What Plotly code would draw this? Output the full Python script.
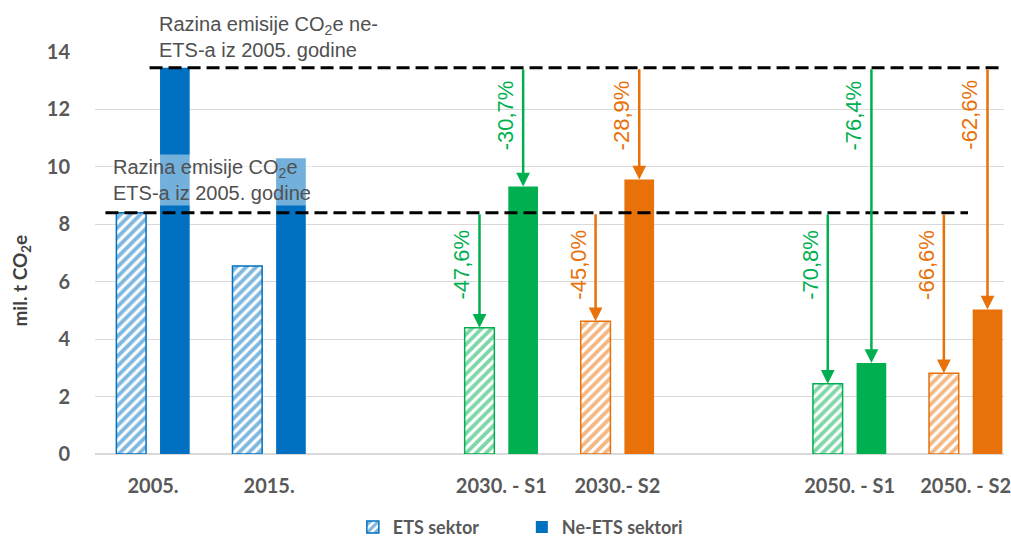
import plotly.graph_objects as go

# ---- data ----
categories = ["2005.", "2015.", " ", "2030. - S1", "2030.- S2", "  ", "2050. - S1", "2050. - S2"]
bar_cats = ["2005.", "2015.", "2030. - S1", "2030.- S2", "2050. - S1", "2050. - S2"]
ets_values = [8.40, 6.55, 4.40, 4.62, 2.45, 2.81]
non_ets_values = [13.45, 10.30, 9.32, 9.56, 3.17, 5.03]
bar_colors = ["#0070C0", "#0070C0", "#00B050", "#E8710A", "#00B050", "#E8710A"]
ets_change_labels = ["-47,6%", "-45,0%", "-70,8%", "-66,6%"]
non_ets_change_labels = ["-30,7%", "-28,9%", "-76,4%", "-62,6%"]
scenario_cats = ["2030. - S1", "2030.- S2", "2050. - S1", "2050. - S2"]
y_ticks = [0, 2, 4, 6, 8, 10, 12, 14]

ets_ref = ets_values[0]
non_ets_ref = non_ets_values[0]

BARGAP = 0.248
OFF = (1 - BARGAP) / 4  # offset of each bar centre from category centre

GREY = "#595959"
TICKFONT = dict(family="Lato", size=20, color=GREY)

fig = go.Figure()
fig.add_trace(go.Bar(
    name="ETS sektor", x=bar_cats, y=ets_values,
    marker=dict(color="white",
                line=dict(color=bar_colors, width=1.5),
                pattern=dict(shape="/", fgcolor=bar_colors, bgcolor="white",
                             size=7, solidity=0.55)),
))
fig.add_trace(go.Bar(
    name="Ne-ETS sektori", x=bar_cats, y=non_ets_values,
    marker=dict(color=bar_colors, line=dict(width=0)),
))

# reference dashed lines
fig.add_shape(type="line", x0=-0.03, x1=7.4, y0=non_ets_ref, y1=non_ets_ref,
              line=dict(color="black", width=3, dash="13px,6px"))
fig.add_shape(type="line", x0=-0.41, x1=7.02, y0=ets_ref, y1=ets_ref,
              line=dict(color="black", width=3, dash="13px,6px"))

annotations = []
for cat, lab_e, lab_n in zip(scenario_cats, ets_change_labels, non_ets_change_labels):
    i = categories.index(cat)
    col = bar_colors[bar_cats.index(cat)]
    ev = ets_values[bar_cats.index(cat)]
    nv = non_ets_values[bar_cats.index(cat)]
    for xc, top, ref, lab, ylab in [(i - OFF, ev, ets_ref, lab_e, ets_ref - 1.82),
                                   (i + OFF, nv, non_ets_ref, lab_n, non_ets_ref - 1.65)]:
        annotations.append(dict(x=xc, y=top, ax=xc, ay=ref, xref="x", yref="y",
                                axref="x", ayref="y", showarrow=True, text="",
                                arrowhead=2, arrowsize=1.1, arrowwidth=2.5,
                                arrowcolor=col, standoff=0, startstandoff=0))
        annotations.append(dict(x=xc, y=ylab, xref="x", yref="y", showarrow=False,
                                text=lab, textangle=-90, xshift=-18,
                                xanchor="center", yanchor="middle",
                                font=dict(family="Liberation Sans", size=22, color=col)))

annotations.append(dict(x=(157 - 95) / 916, y=(454 - 11) / 402, xref="paper", yref="paper",
                        xanchor="left", yanchor="top",
                        showarrow=False, align="left",
                        text="Razina emisije CO<sub>2</sub>e ne-<br>ETS-a iz 2005. godine",
                        font=dict(family="Liberation Sans", size=20, color="#505050")))
annotations.append(dict(x=-0.36, y=10.45, xref="x", yref="y", xanchor="left", yanchor="top",
                        showarrow=False, align="left", bgcolor="rgba(255,255,255,0.45)",
                        text="Razina emisije CO<sub>2</sub>e<br>ETS-a iz 2005. godine",
                        font=dict(family="Liberation Sans", size=20, color="#505050")))
annotations.append(dict(x=(20 - 95) / 916, y=(454 - 281) / 402, xref="paper", yref="paper",
                        xanchor="center", yanchor="middle", showarrow=False,
                        text="mil. t CO<sub>2</sub>e", textangle=-90,
                        font=dict(family="Lato", size=19, color="#404040", weight="bold")))

fig.update_layout(
    width=1011, height=538,
    margin=dict(l=95, r=0, t=52, b=84),
    paper_bgcolor="white", plot_bgcolor="white",
    barmode="group", bargap=BARGAP, bargroupgap=0.32,
    annotations=annotations,
    showlegend=True,
    legend=dict(orientation="h", xref="container", yref="container",
                x=0.349, y=0.02, xanchor="left", yanchor="middle",
                font=dict(family="Lato", size=18, color=GREY, weight="bold"),
                entrywidth=124, itemwidth=30),
    xaxis=dict(type="category", categoryorder="array", categoryarray=categories,
               range=[-0.5, 7.33], showgrid=False, showline=True, linecolor="#D9D9D9",
               linewidth=1, ticks="outside", ticklen=14, tickcolor="rgba(0,0,0,0)",
               tickfont=dict(**TICKFONT, weight="bold")),
    yaxis=dict(range=[0, 14], tickvals=y_ticks, showgrid=True, gridcolor="#D9D9D9",
               gridwidth=1, zeroline=True, zerolinecolor="#D9D9D9", showline=False,
               ticks="outside", ticklen=20, tickcolor="rgba(0,0,0,0)",
               tickfont=dict(**TICKFONT, weight="bold")),
)

fig.write_html("out.html", config={"displayModeBar": False},
               post_script="document.body.style.margin='0';document.body.style.overflow='hidden';")
